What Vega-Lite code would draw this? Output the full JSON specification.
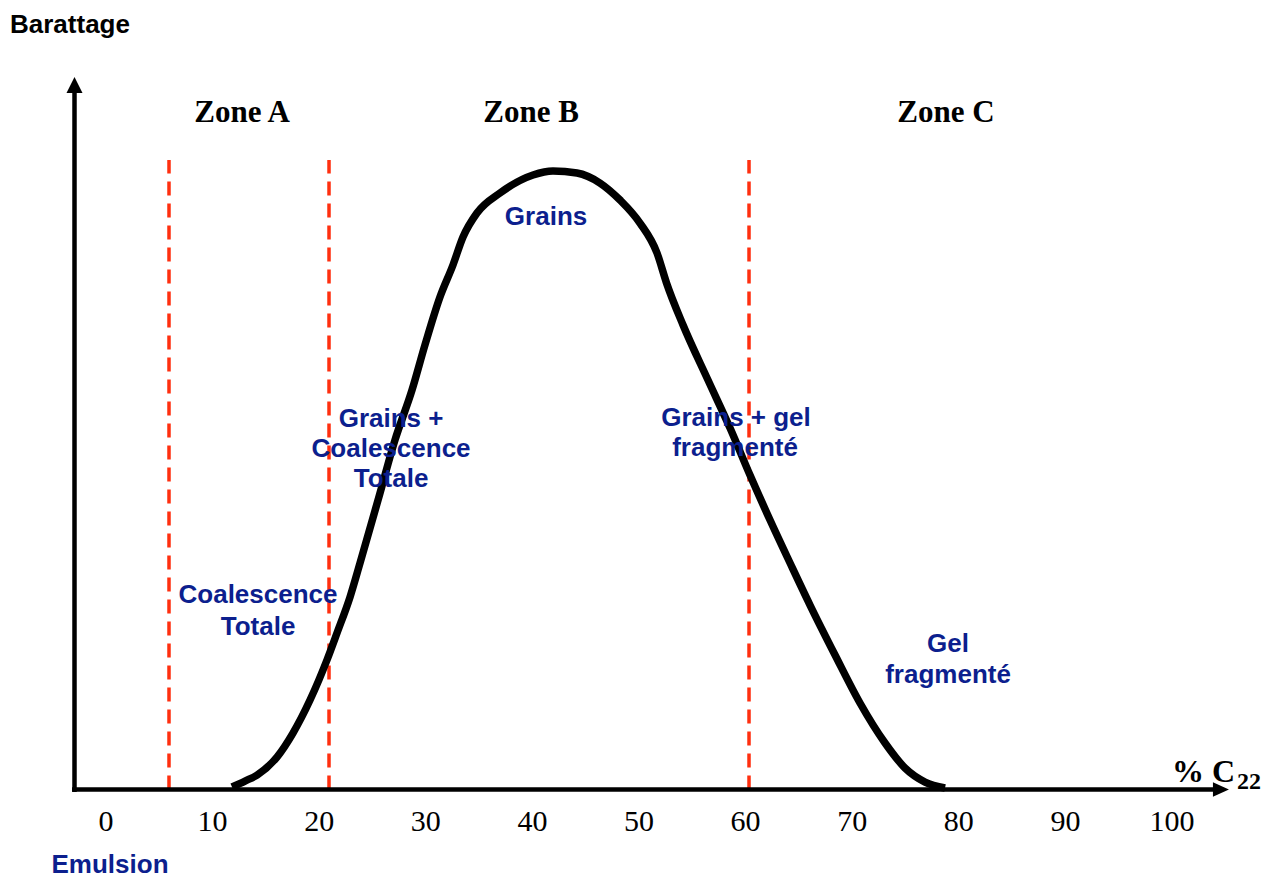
{
  "$schema": "https://vega.github.io/schema/vega-lite/v6.json",
  "width": 1280,
  "height": 880,
  "autosize": "none",
  "padding": 0,
  "background": "white",
  "config": {"view": {"stroke": null}},
  "datasets": {
    "curve": [
      {"c22": 11.82, "barattage": 0.4},
      {"c22": 13.04, "barattage": 1.37},
      {"c22": 14.17, "barattage": 2.34},
      {"c22": 16.04, "barattage": 5.25},
      {"c22": 17.54, "barattage": 9.13},
      {"c22": 19.14, "barattage": 14.47},
      {"c22": 20.73, "barattage": 20.94},
      {"c22": 21.67, "barattage": 25.3},
      {"c22": 22.89, "barattage": 31.12},
      {"c22": 23.83, "barattage": 36.62},
      {"c22": 25.52, "barattage": 46.81},
      {"c22": 27.11, "barattage": 56.51},
      {"c22": 28.71, "barattage": 64.6},
      {"c22": 29.92, "barattage": 71.87},
      {"c22": 31.33, "barattage": 79.63},
      {"c22": 32.55, "barattage": 84.81},
      {"c22": 33.49, "barattage": 89.33},
      {"c22": 34.8, "barattage": 93.21},
      {"c22": 36.96, "barattage": 96.44},
      {"c22": 40.06, "barattage": 99.35},
      {"c22": 41.93, "barattage": 100},
      {"c22": 44.18, "barattage": 99.68},
      {"c22": 46.34, "barattage": 98.06},
      {"c22": 48.22, "barattage": 95.31},
      {"c22": 50.09, "barattage": 91.59},
      {"c22": 51.69, "barattage": 86.74},
      {"c22": 52.58, "barattage": 81.9},
      {"c22": 54.13, "barattage": 75.1},
      {"c22": 56.47, "barattage": 66.2},
      {"c22": 58.54, "barattage": 58.44},
      {"c22": 60.41, "barattage": 50.84},
      {"c22": 62.29, "barattage": 43.57},
      {"c22": 64.17, "barattage": 36.62},
      {"c22": 66.04, "barattage": 29.83},
      {"c22": 68.39, "barattage": 21.75},
      {"c22": 70.73, "barattage": 13.99},
      {"c22": 73.08, "barattage": 7.52},
      {"c22": 74.95, "barattage": 3.48},
      {"c22": 76.83, "barattage": 1.21},
      {"c22": 78.71, "barattage": 0.24}
    ],
    "zonelines": [
      {"c22": 5.91, "top": 101.8, "bottom": 0},
      {"c22": 20.92, "top": 101.8, "bottom": 0},
      {"c22": 60.32, "top": 101.8, "bottom": 0}
    ],
    "axislines": [
      {"x1": -2.955, "x2": -2.955, "y1": -0.4, "y2": 113.1},
      {"x1": -3.19, "x2": 104.0, "y1": 0, "y2": 0}
    ],
    "arrowsUp": [{"x": -2.955, "y": 113.9}],
    "arrowsRight": [{"x": 104.59, "y": 0}],
    "labels": [
      {"x": 0, "y": -6.71, "text": "0", "kind": "tick"},
      {"x": 10, "y": -6.71, "text": "10", "kind": "tick"},
      {"x": 20, "y": -6.71, "text": "20", "kind": "tick"},
      {"x": 30, "y": -6.71, "text": "30", "kind": "tick"},
      {"x": 40, "y": -6.71, "text": "40", "kind": "tick"},
      {"x": 50, "y": -6.71, "text": "50", "kind": "tick"},
      {"x": 60, "y": -6.71, "text": "60", "kind": "tick"},
      {"x": 70, "y": -6.71, "text": "70", "kind": "tick"},
      {"x": 80, "y": -6.71, "text": "80", "kind": "tick"},
      {"x": 90, "y": -6.71, "text": "90", "kind": "tick"},
      {"x": 100, "y": -6.71, "text": "100", "kind": "tick"},
      {"x": 12.76, "y": 107.92, "text": "Zone A", "kind": "zone"},
      {"x": 39.87, "y": 107.92, "text": "Zone B", "kind": "zone"},
      {"x": 78.8, "y": 107.92, "text": "Zone C", "kind": "zone"},
      {"x": 41.28, "y": 91.27, "text": "Grains", "kind": "blue"},
      {"x": 26.74, "y": 58.61, "text": "Grains +", "kind": "blue"},
      {"x": 26.74, "y": 53.76, "text": "Coalescence", "kind": "blue"},
      {"x": 26.74, "y": 48.91, "text": "Totale", "kind": "blue"},
      {"x": 59.1, "y": 58.77, "text": "Grains + gel", "kind": "blue"},
      {"x": 59.01, "y": 53.92, "text": "fragmenté", "kind": "blue"},
      {"x": 14.26, "y": 30.15, "text": "Coalescence", "kind": "blue"},
      {"x": 14.26, "y": 24.98, "text": "Totale", "kind": "blue"},
      {"x": 78.99, "y": 22.23, "text": "Gel", "kind": "blue"},
      {"x": 78.99, "y": 17.22, "text": "fragmenté", "kind": "blue"},
      {"x": 0.375, "y": -13.5, "text": "Emulsion", "kind": "blue"},
      {"x": -9.006, "y": 122.31, "text": "Barattage", "kind": "ytitle"},
      {"x": 100.0, "y": 1.21, "text": "% C", "kind": "xtitle"},
      {"x": 106.1, "y": 0.08, "text": "22", "kind": "sub"}
    ]
  },
  "layer": [
    {
      "data": {"name": "zonelines"},
      "mark": {"type": "rule", "color": "#ff2f0f", "strokeWidth": 3.5, "strokeDash": [14, 8]},
      "encoding": {
        "x": {"field": "c22", "type": "quantitative", "scale": {"domain": [-9.944, 110.131], "nice": false, "zero": false}, "axis": null},
        "y": {"field": "bottom", "type": "quantitative", "scale": {"domain": [-14.63, 127.65], "nice": false, "zero": false}, "axis": null},
        "y2": {"field": "top"}
      }
    },
    {
      "data": {"name": "axislines"},
      "mark": {"type": "rule", "color": "black", "strokeWidth": 4.5},
      "encoding": {
        "x": {"field": "x1", "type": "quantitative", "scale": {"domain": [-9.944, 110.131], "nice": false, "zero": false}, "axis": null},
        "x2": {"field": "x2"},
        "y": {"field": "y1", "type": "quantitative", "scale": {"domain": [-14.63, 127.65], "nice": false, "zero": false}, "axis": null},
        "y2": {"field": "y2"}
      }
    },
    {
      "data": {"name": "arrowsUp"},
      "mark": {"type": "point", "shape": "M0,-1L1,1L-1,1Z", "filled": true, "color": "black", "size": 256, "opacity": 1, "strokeWidth": 0},
      "encoding": {
        "x": {"field": "x", "type": "quantitative", "scale": {"domain": [-9.944, 110.131], "nice": false, "zero": false}, "axis": null},
        "y": {"field": "y", "type": "quantitative", "scale": {"domain": [-14.63, 127.65], "nice": false, "zero": false}, "axis": null}
      }
    },
    {
      "data": {"name": "arrowsRight"},
      "mark": {"type": "point", "shape": "M1,0L-1,-0.9L-1,0.9Z", "filled": true, "color": "black", "size": 256, "opacity": 1, "strokeWidth": 0},
      "encoding": {
        "x": {"field": "x", "type": "quantitative", "scale": {"domain": [-9.944, 110.131], "nice": false, "zero": false}, "axis": null},
        "y": {"field": "y", "type": "quantitative", "scale": {"domain": [-14.63, 127.65], "nice": false, "zero": false}, "axis": null}
      }
    },
    {
      "data": {"name": "curve"},
      "mark": {"type": "line", "color": "black", "strokeWidth": 7.5, "interpolate": "monotone", "strokeCap": "butt"},
      "encoding": {
        "x": {"field": "c22", "type": "quantitative", "scale": {"domain": [-9.944, 110.131], "nice": false, "zero": false}, "axis": null},
        "y": {"field": "barattage", "type": "quantitative", "scale": {"domain": [-14.63, 127.65], "nice": false, "zero": false}, "axis": null}
      }
    },
    {
      "data": {"name": "labels"},
      "transform": [{"filter": "datum.kind === 'tick'"}],
      "mark": {"type": "text", "font": "Liberation Serif", "fontSize": 30, "color": "black", "align": "center", "baseline": "alphabetic"},
      "encoding": {
        "x": {"field": "x", "type": "quantitative", "scale": {"domain": [-9.944, 110.131], "nice": false, "zero": false}, "axis": null},
        "y": {"field": "y", "type": "quantitative", "scale": {"domain": [-14.63, 127.65], "nice": false, "zero": false}, "axis": null},
        "text": {"field": "text"}
      }
    },
    {
      "data": {"name": "labels"},
      "transform": [{"filter": "datum.kind === 'zone'"}],
      "mark": {"type": "text", "font": "Liberation Serif", "fontSize": 31, "fontWeight": "bold", "color": "black", "align": "center", "baseline": "alphabetic"},
      "encoding": {
        "x": {"field": "x", "type": "quantitative", "scale": {"domain": [-9.944, 110.131], "nice": false, "zero": false}, "axis": null},
        "y": {"field": "y", "type": "quantitative", "scale": {"domain": [-14.63, 127.65], "nice": false, "zero": false}, "axis": null},
        "text": {"field": "text"}
      }
    },
    {
      "data": {"name": "labels"},
      "transform": [{"filter": "datum.kind === 'blue'"}],
      "mark": {"type": "text", "font": "Liberation Sans", "fontSize": 26, "fontWeight": "bold", "color": "#0c1f8e", "align": "center", "baseline": "alphabetic"},
      "encoding": {
        "x": {"field": "x", "type": "quantitative", "scale": {"domain": [-9.944, 110.131], "nice": false, "zero": false}, "axis": null},
        "y": {"field": "y", "type": "quantitative", "scale": {"domain": [-14.63, 127.65], "nice": false, "zero": false}, "axis": null},
        "text": {"field": "text"}
      }
    },
    {
      "data": {"name": "labels"},
      "transform": [{"filter": "datum.kind === 'ytitle'"}],
      "mark": {"type": "text", "font": "Liberation Sans", "fontSize": 26, "fontWeight": "bold", "color": "black", "align": "left", "baseline": "alphabetic"},
      "encoding": {
        "x": {"field": "x", "type": "quantitative", "scale": {"domain": [-9.944, 110.131], "nice": false, "zero": false}, "axis": null},
        "y": {"field": "y", "type": "quantitative", "scale": {"domain": [-14.63, 127.65], "nice": false, "zero": false}, "axis": null},
        "text": {"field": "text"}
      }
    },
    {
      "data": {"name": "labels"},
      "transform": [{"filter": "datum.kind === 'xtitle'"}],
      "mark": {"type": "text", "font": "Liberation Serif", "fontSize": 32, "fontWeight": "bold", "color": "black", "align": "left", "baseline": "alphabetic"},
      "encoding": {
        "x": {"field": "x", "type": "quantitative", "scale": {"domain": [-9.944, 110.131], "nice": false, "zero": false}, "axis": null},
        "y": {"field": "y", "type": "quantitative", "scale": {"domain": [-14.63, 127.65], "nice": false, "zero": false}, "axis": null},
        "text": {"field": "text"}
      }
    },
    {
      "data": {"name": "labels"},
      "transform": [{"filter": "datum.kind === 'sub'"}],
      "mark": {"type": "text", "font": "Liberation Serif", "fontSize": 24, "fontWeight": "bold", "color": "black", "align": "left", "baseline": "alphabetic"},
      "encoding": {
        "x": {"field": "x", "type": "quantitative", "scale": {"domain": [-9.944, 110.131], "nice": false, "zero": false}, "axis": null},
        "y": {"field": "y", "type": "quantitative", "scale": {"domain": [-14.63, 127.65], "nice": false, "zero": false}, "axis": null},
        "text": {"field": "text"}
      }
    }
  ]
}
